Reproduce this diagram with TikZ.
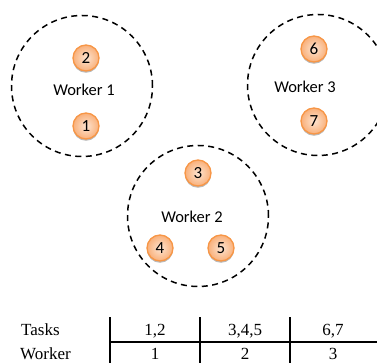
\documentclass[tikz,border=0pt]{standalone}
\usepackage{fontspec}
\setmainfont{Liberation Serif}
\newfontfamily\calibri{Carlito}
\newfontfamily\timesfont{Liberation Serif}
\usepackage{tikz}
\usetikzlibrary{shadows}
\definecolor{taskedge}{HTML}{F79646}
\definecolor{tasklight}{HTML}{FDE4D1}
\definecolor{taskdark}{HTML}{F9B07A}
\tikzset{
    tasknode/.style={circle, draw=taskedge, line width=1.3pt, inner color=tasklight,
        outer color=taskdark, minimum size=26pt, inner sep=0pt,
        font=\calibri\fontsize{17}{17}\selectfont,
        drop shadow={shadow xshift=0pt, shadow yshift=-1.8pt, fill=black!45, opacity=0.6}},
    workerring/.style={circle, draw, line width=1.5pt, dash pattern=on 6pt off 4.5pt,
        minimum size=141pt, inner sep=0pt},
    workerlabel/.style={font=\calibri\fontsize{16.5}{16.5}\selectfont},
    cellnode/.style={font=\timesfont\fontsize{17}{17}\selectfont, anchor=base, inner sep=0pt},
    tablerule/.style={line width=1.8pt}
}
\begin{document}
\begin{tikzpicture}[x=1pt, y=-1pt]
        \useasboundingbox (0, 0) rectangle (377, 363);
        \clip (0, 0) rectangle (377, 363);

        \node [workerring] (ring1) at (82, 86) {};
        \node [workerring] (ring2) at (198, 216) {};
        \node [workerring] (ring3) at (318, 85) {};

        \node [workerlabel] (w1) at (84, 90) {Worker 1};
        \node [workerlabel] (w2) at (192, 217) {Worker 2};
        \node [workerlabel] (w3) at (305, 87) {Worker 3};

        \node [tasknode] (t1) at (86, 126) {1};
        \node [tasknode] (t2) at (86, 58) {2};
        \node [tasknode] (t3) at (198, 173) {3};
        \node [tasknode] (t4) at (160, 248) {4};
        \node [tasknode] (t5) at (221, 248) {5};
        \node [tasknode] (t6) at (314, 49) {6};
        \node [tasknode] (t7) at (314, 121) {7};

        \draw [tablerule] (110, 317) -- (110, 363);
        \draw [tablerule] (200, 317) -- (200, 363);
        \draw [tablerule] (290, 317) -- (290, 363);
        \draw [tablerule] (110, 342) -- (377, 342);

        \node [cellnode, anchor=base west] (tasks) at (21, 335) {Tasks};
        \node [cellnode, anchor=base west] (worker) at (20, 359) {Worker};
        \node [cellnode] (c12) at (155, 335) {1,2};
        \node [cellnode] (c345) at (245, 335) {3,4,5};
        \node [cellnode] (c67) at (333, 335) {6,7};
        \node [cellnode] (n1) at (155, 359) {1};
        \node [cellnode] (n2) at (245, 359) {2};
        \node [cellnode] (n3) at (333, 359) {3};
\end{tikzpicture}
\end{document}
